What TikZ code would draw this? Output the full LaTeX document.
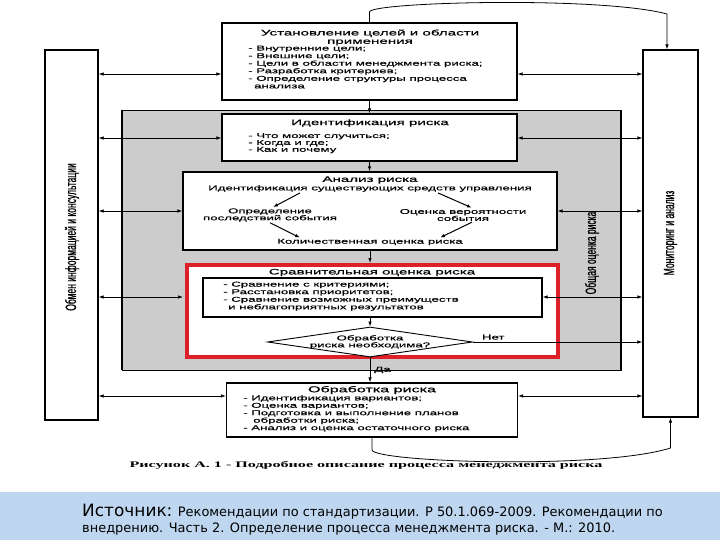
\documentclass[tikz,border=0pt]{standalone}
\usepackage{fontspec}
\setmainfont{Liberation Sans}
\newfontfamily\widesans[FakeStretch=1.9,FakeBold=0.6]{Liberation Sans}
\newfontfamily\narrowsans[FakeStretch=0.57,FakeBold=0.6]{Liberation Sans}
\newfontfamily\wideserif[FakeStretch=1.9]{Liberation Serif}
\newfontfamily\notefont{DejaVu Sans}
\usetikzlibrary{arrows.meta,shapes.geometric}
\definecolor{redline}{RGB}{222,32,40}
\definecolor{band}{RGB}{190,214,240}

\begin{document}
\begin{tikzpicture}[x=1bp, y=-1bp,
  block/.style={draw, line width=1.2pt, fill=white, inner sep=0pt},
  boxtitle/.style={font=\widesans\fontsize{8}{8.4}\selectfont, align=center, inner sep=0pt},
  boxitems/.style={font=\widesans\fontsize{7}{7.6}\selectfont, align=left, anchor=north west, inner sep=0pt},
  smalltext/.style={font=\widesans\fontsize{7}{7}\selectfont, align=center, inner sep=1bp},
  sidetext/.style={font=\narrowsans\fontsize{15}{15}\selectfont, rotate=90, inner sep=0pt},
  decision/.style={draw, diamond, line width=0.9pt, fill=white, inner sep=0pt, minimum width=205bp, minimum height=30bp},
  link/.style={line width=0.7pt, {Latex[length=5bp,width=3.5bp]}-{Latex[length=5bp,width=3.5bp]}},
  flow/.style={line width=0.8pt, -{Latex[length=5bp,width=3.5bp]}},
]

  \fill[white] (0,0) rectangle (720,540);
  \useasboundingbox (0,0) rectangle (720,540);
  \fill[band] (0,492) rectangle (720,540);

  % Side columns
  \node[block, minimum width=53bp, minimum height=370bp] (comm) at (71.5,235) {};
  \node[sidetext] (commT) at (72,237) {Обмен информацией и консультации};
  \node[block, minimum width=55bp, minimum height=367bp] (monitor) at (670.5,233.5) {};
  \node[sidetext] (monT) at (670.5,233) {Мониторинг и анализ};

  % Gray frame
  \node[draw, line width=0.8pt, fill=black!20, minimum width=499bp, minimum height=260bp] (overall) at (371.5,240) {};
  \draw[line width=2pt] (overall.north west) -- (overall.south west);
  \draw[line width=2pt] (overall.north east) -- (overall.south east);
  \node[sidetext] (overallT) at (592,253) {Общая оценка риска};

  % Main boxes
  \node[block, minimum width=295bp, minimum height=77bp] (goals) at (369.5,61.5) {};
  \node[block, minimum width=295bp, minimum height=47bp] (ident) at (369.5,137.5) {};
  \node[block, minimum width=374bp, minimum height=78bp] (analysis) at (370,211) {};
  \node[block, draw=redline, line width=4pt, minimum width=371bp, minimum height=92bp] (compare) at (372.5,311) {};
  \node[block, minimum width=339bp, minimum height=39bp] (critbox) at (372.5,297.5) {};
  \node[decision, label={[smalltext, align=center]center:Обработка\\риска необходима?}] (need) at (370,342) {};
  \node[block, minimum width=291bp, minimum height=54bp] (treat) at (372,410) {};

  % Box texts
  \node[boxtitle] (goalsT) at (370,37.5) {Установление целей и области\\применения};
  \node[boxitems] (goalsL) at (248,45.5) {- Внутренние цели;\\- Внешние цели;\\- Цели в области менеджмента риска;\\- Разработка критериев;\\- Определение структуры процесса\\\hspace*{6bp}анализа};
  \node[boxtitle] (identT) at (370,123) {Идентификация риска};
  \node[boxitems, font=\widesans\fontsize{7}{6.9}\selectfont] (identL) at (248,133) {- Что может случиться;\\- Когда и где;\\- Как и почему};
  \node[boxtitle] (analysisT) at (370,180) {Анализ риска};
  \node[smalltext] (ctrl) at (370,188.5) {Идентификация существующих средств управления};
  \node[smalltext] (cons) at (270,215) {Определение\\последствий события};
  \node[smalltext] (prob) at (463,215) {Оценка вероятности\\события};
  \node[smalltext] (quant) at (370,242) {Количественная оценка риска};
  \node[boxtitle] (compareT) at (372,272.5) {Сравнительная оценка риска};
  \node[boxitems] (critL) at (223,281.5) {- Сравнение с критериями;\\- Расстановка приоритетов;\\- Сравнение возможных преимуществ\\\hspace*{5bp}и неблагоприятных результатов};
  \node[boxtitle, font=\widesans\fontsize{8.5}{8.5}\selectfont] (treatT) at (372,390) {Обработка риска};
  \node[boxitems, font=\widesans\fontsize{7}{7.5}\selectfont] (treatL) at (243,395) {- Идентификация вариантов;\\- Оценка вариантов;\\- Подготовка и выполнение планов\\\hspace*{10bp}обработки риска;\\- Анализ и оценка остаточного риска};

  % Arrows inside analysis
  \draw[flow, line width=1pt] ([xshift=-70bp]ctrl.south) -- ([xshift=3bp]cons.north);
  \draw[flow, line width=1pt] ([xshift=68bp]ctrl.south) -- ([xshift=9bp]prob.north);
  \draw[flow, line width=1pt] (cons.south) -- ([xshift=-70bp]quant.north);
  \draw[flow, line width=1pt] ([xshift=9bp]prob.south) -- ([xshift=70bp]quant.north);

  % Vertical flow
  \draw[flow] (goals.south) -- (goals.south |- ident.north);
  \draw[flow] (ident.south) -- (ident.south |- analysis.north);
  \draw[flow] (analysis.south) -- (analysis.south |- compare.north);
  \draw[flow] (need.north |- critbox.south) -- (need.north);
  \draw[flow] (need.south) -- (need.south |- treat.north) node[pos=0.5, right=3bp, smalltext] {Да};
  \draw[flow] (goals.north) -- (369.5,12) .. controls (369.5,2) and (600,-4) .. (667,14) -- ([xshift=-3.5bp]monitor.north);
  \draw[flow] (treat.south) -- (372,450) .. controls (374,462) and (600,470) .. (670.5,448) -- (monitor.south);

  % Horizontal links
  \coordinate (r1) at (0,74);
  \coordinate (r2) at (0,138);
  \coordinate (r3) at (0,211);
  \coordinate (r4) at (0,297);
  \coordinate (r6) at (0,396);
  \draw[link] (comm.east |- r1) -- (goals.west |- r1);
  \draw[link] (goals.east |- r1) -- (monitor.west |- r1);
  \draw[link] (comm.east |- r2) -- (ident.west |- r2);
  \draw[link] (ident.east |- r2) -- (monitor.west |- r2);
  \draw[link] (comm.east |- r3) -- (analysis.west |- r3);
  \draw[link] (analysis.east |- r3) -- (monitor.west |- r3);
  \draw[link, shorten >=2bp] (comm.east |- r4) -- (compare.west |- r4);
  \draw[link] (critbox.east |- r4) -- (monitor.west |- r4);
  \draw[flow] (need.east) -- (need.east -| monitor.west) node[pos=0.12, above=1bp, smalltext] {Нет};
  \draw[link] (comm.east |- r6) -- (treat.west |- r6);
  \draw[link] (treat.east |- r6) -- (monitor.west |- r6);

  % Caption and source
  \node[font=\wideserif\bfseries\fontsize{8.5}{9}\selectfont, inner sep=0pt] (caption) at (366,465) {Рисунок А. 1 - Подробное описание процесса менеджмента риска};
  \node[anchor=north west, font=\notefont\fontsize{13}{16.5}\selectfont, align=left, inner sep=0pt] (source) at (82,503.5) {{\fontsize{17}{17}\selectfont Источник:} Рекомендации по стандартизации. Р 50.1.069-2009. Рекомендации по\\внедрению. Часть 2. Определение процесса менеджмента риска. - М.: 2010.};

\end{tikzpicture}
\end{document}
